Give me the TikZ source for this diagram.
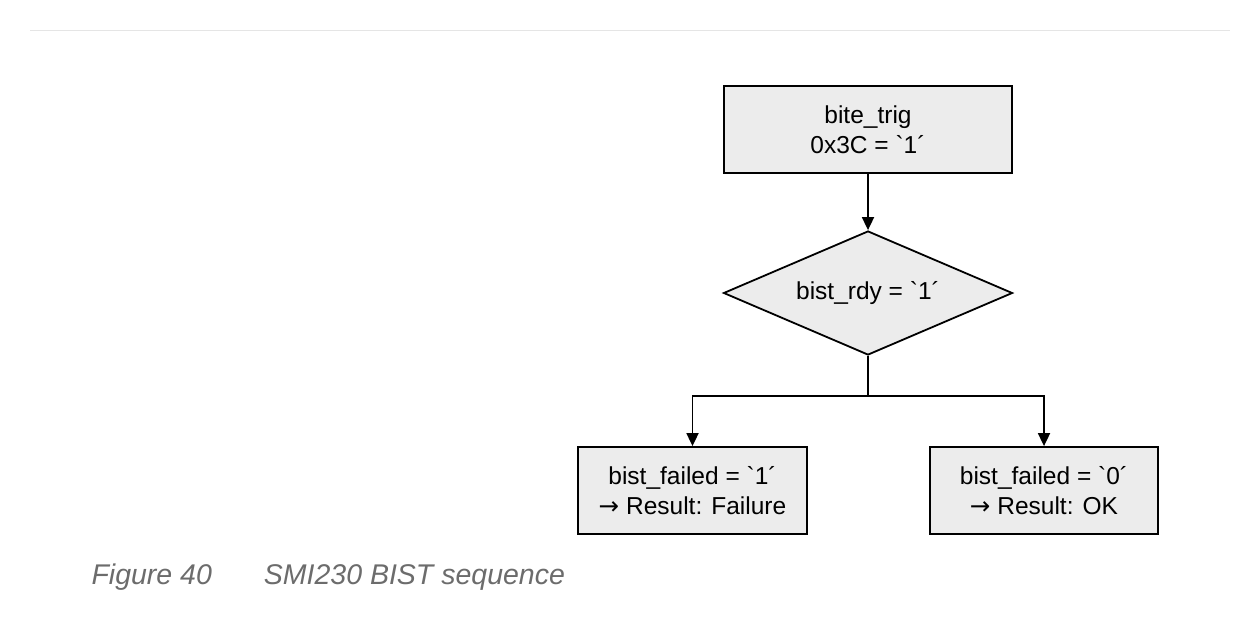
\documentclass[tikz,border=0pt]{standalone}
\usepackage{fontspec}
\setmainfont{Liberation Sans}[Ligatures=TeXOff]
\newfontfamily\dejavu{DejaVu Sans}
\usetikzlibrary{shapes.geometric,arrows.meta}
\newcommand{\gq}{\symbol{96}}
\newcommand{\myarr}{{\dejavu\symbol{"2192}}}
\begin{document}
\begin{tikzpicture}[x=1pt,y=1pt,
  box/.style={draw=black,line width=1.8pt,fill=gray!15,align=center,font=\fontsize{24.5}{30}\selectfont,inner sep=0pt},
  arr/.style={line width=1.8pt,-{Triangle[length=13pt,width=12pt]}}]
\useasboundingbox[fill=white] (0,0) rectangle (1260,-624);
\draw[gray!20,line width=0.8pt] (30,-30) -- (1230,-30);
\node[box,minimum width=288pt,minimum height=87pt] (trig) at (868,-129.5) {bite\_trig\\0x3C = \gq1´};
\node[box,diamond,aspect=2.33,minimum width=289pt,minimum height=124pt] (rdy) at (868,-293) {bist\_rdy = \gq1´};
\node[box,minimum width=229pt,minimum height=87pt] (fail) at (692.5,-490.5) {bist\_failed = \gq1´\\\myarr{} Result: Failure};
\node[box,minimum width=228pt,minimum height=87pt] (ok) at (1044,-490.5) {bist\_failed = \gq0´\\\myarr{} Result: OK};
\coordinate (j) at (868,-396);
\draw[arr] (trig) -- (rdy);
\draw[line width=1.8pt] (rdy.south) -- (j);
\draw[arr] (j) -| (fail.north);
\draw[arr] (j) -| (ok.north);
\node[anchor=west,text=gray!85!black,font=\fontsize{28.5}{32}\selectfont\itshape] (cap) at (88,-577) {Figure 40\hspace{52pt}SMI230 BIST sequence};
\end{tikzpicture}
\end{document}
